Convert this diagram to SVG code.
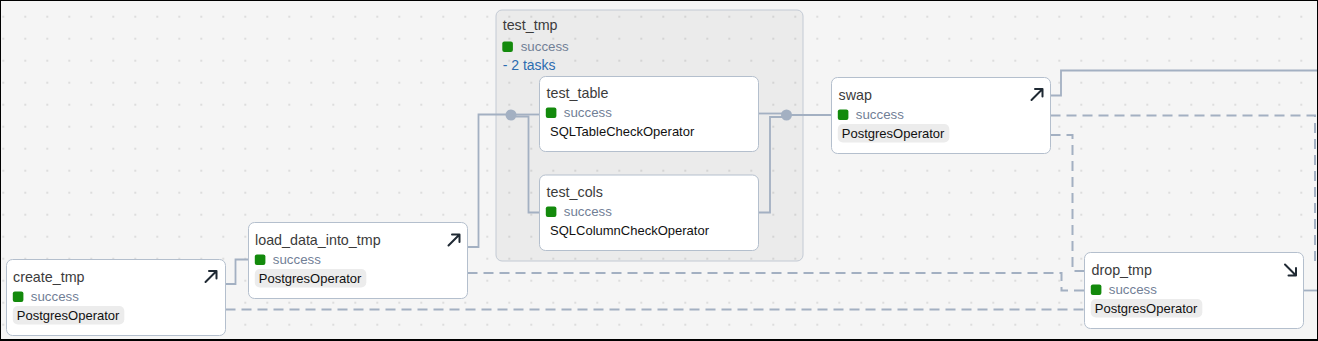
<svg xmlns="http://www.w3.org/2000/svg" width="1318" height="341" viewBox="0 0 1318 341">
<style>
.box{fill:#fff;stroke:#b4bfcd;stroke-width:1}
.title{font-family:"Liberation Sans",Arial,sans-serif;font-size:14.3px;fill:#3b3b3b}
.st{font-family:"Liberation Sans",Arial,sans-serif;font-size:13.3px;fill:#718096}
.tag{font-family:"Liberation Sans",Arial,sans-serif;font-size:13px;fill:#111}
.tagbg{fill:#ececec}
.sq{fill:#138a0c}
.icon{fill:none;stroke:#1f2933;stroke-width:2;stroke-linecap:round;stroke-linejoin:round}
.e{fill:none;stroke:#a3b0c2;stroke-width:1.8}
.d{fill:none;stroke:#a3b0c2;stroke-width:2;stroke-dasharray:10 6}
.grp{fill:#000;fill-opacity:0.04;stroke:#c3cad4;stroke-width:1}
.tasks{font-family:"Liberation Sans",Arial,sans-serif;font-size:14px;fill:#2b6cb0}
</style>
<defs>
<pattern id="dots" patternUnits="userSpaceOnUse" x="-7.7" y="5.7" width="22" height="22">
<circle cx="11" cy="11" r="0.75" fill="#b8b8b8"/>
</pattern>
</defs>
<rect x="0" y="0" width="1318" height="341" fill="#f5f5f5"/>
<rect x="0" y="0" width="1318" height="341" fill="url(#dots)"/>

<g id="test_tmp">
<rect class="grp" x="496" y="10" width="307" height="251" rx="6"/>
<text class="title" x="502.7" y="29.5">test_tmp</text>
<rect class="sq" x="502.3" y="41.5" width="10.6" height="10.6" rx="2"/>
<text class="st" x="520.7" y="50.7">success</text>
<text class="tasks" x="502.7" y="70.3">- 2 tasks</text>
</g>

<g id="edges">
<path class="e" d="M225.5,284 H235.5 V259.5 H248.5"/>
<path class="d" d="M225.5,309.5 H1084.5"/>
<path class="e" d="M467.5,247 H478.5 V114.5 H511"/>
<path class="e" d="M511,114.5 H539.5"/>
<path class="e" d="M516,116.5 H528.5 V212.5 H539.5"/>
<path class="e" d="M758.5,113.5 H786.5"/>
<path class="e" d="M758.5,212.5 H770 V117 H786.5"/>
<path class="e" d="M786.5,115 H831.5"/>
<path class="e" d="M1050.5,95.5 H1061 V70.5 H1320"/>
<path class="d" d="M1050.5,115.5 H1315 V265 H1322"/>
<path class="d" d="M1050.5,135 H1072.5 V271 H1084.5"/>
<path class="d" d="M467.5,273 H1061.5 V290.5 H1084.5"/>
<path class="e" d="M1303.5,290.5 H1320"/>
<circle cx="511" cy="115" r="5.5" fill="#a3b0c2"/>
<circle cx="786.5" cy="115" r="5.5" fill="#a3b0c2"/>
</g>

<g id="create_tmp" transform="translate(6.5,259.5)">
<rect class="box" x="0" y="0" width="219" height="76" rx="6"/>
<text class="title" x="6.5" y="22">create_tmp</text>
<rect class="sq" x="6.3" y="32" width="10.6" height="10.6" rx="2"/>
<text class="st" x="24.3" y="41.3">success</text>
<rect class="tagbg" x="6.3" y="46.5" width="111.5" height="18.5" rx="5"/>
<text class="tag" x="10.3" y="60">PostgresOperator</text>
<path class="icon" d="M199,22.5 L210,11.5 M202.5,11.5 H210 V19"/>
</g>

<g id="load_data_into_tmp" transform="translate(248.5,222.5)">
<rect class="box" x="0" y="0" width="219" height="76" rx="6"/>
<text class="title" x="6.5" y="22">load_data_into_tmp</text>
<rect class="sq" x="6.3" y="32" width="10.6" height="10.6" rx="2"/>
<text class="st" x="24.3" y="41.3">success</text>
<rect class="tagbg" x="6.3" y="46.5" width="111.5" height="18.5" rx="5"/>
<text class="tag" x="10.3" y="60">PostgresOperator</text>
<path class="icon" d="M200,23 L211,12 M203.5,12 H211 V19.5"/>
</g>

<g id="test_table" transform="translate(539.5,76.5)">
<rect class="box" x="0" y="0" width="219" height="75" rx="6"/>
<text class="title" x="7" y="21">test_table</text>
<rect class="sq" x="6.3" y="31" width="10.6" height="10.6" rx="2"/>
<text class="st" x="24.3" y="40.5">success</text>
<text class="tag" x="10.5" y="59.3">SQLTableCheckOperator</text>
</g>

<g id="test_cols" transform="translate(539.5,175)">
<rect class="box" x="0" y="0" width="219" height="75.5" rx="6"/>
<text class="title" x="7" y="21.5">test_cols</text>
<rect class="sq" x="6.3" y="31.5" width="10.6" height="10.6" rx="2"/>
<text class="st" x="24.3" y="41">success</text>
<text class="tag" x="10.5" y="59.5">SQLColumnCheckOperator</text>
</g>

<g id="swap" transform="translate(831.5,77.5)">
<rect class="box" x="0" y="0" width="219" height="76" rx="6"/>
<text class="title" x="7" y="22">swap</text>
<rect class="sq" x="6.3" y="32" width="10.6" height="10.6" rx="2"/>
<text class="st" x="24.3" y="41.3">success</text>
<rect class="tagbg" x="6.3" y="46.5" width="111.5" height="18.5" rx="5"/>
<text class="tag" x="10.3" y="60">PostgresOperator</text>
<path class="icon" d="M200,22.5 L211,11.5 M203.5,11.5 H211 V19"/>
</g>

<g id="drop_tmp" transform="translate(1084.5,252.5)">
<rect class="box" x="0" y="0" width="219" height="76" rx="6"/>
<text class="title" x="7" y="22">drop_tmp</text>
<rect class="sq" x="6.3" y="32" width="10.6" height="10.6" rx="2"/>
<text class="st" x="24.3" y="41.3">success</text>
<rect class="tagbg" x="6.3" y="46.5" width="111.5" height="18.5" rx="5"/>
<text class="tag" x="10.3" y="60">PostgresOperator</text>
<path class="icon" d="M200.5,12 L211.5,23 M211.5,15.5 V23 H204"/>
</g>

<rect x="0.5" y="0.5" width="1317" height="339.5" fill="none" stroke="#000" stroke-width="1"/>
<line x1="0" y1="340" x2="1318" y2="340" stroke="#000" stroke-width="2"/>
</svg>
